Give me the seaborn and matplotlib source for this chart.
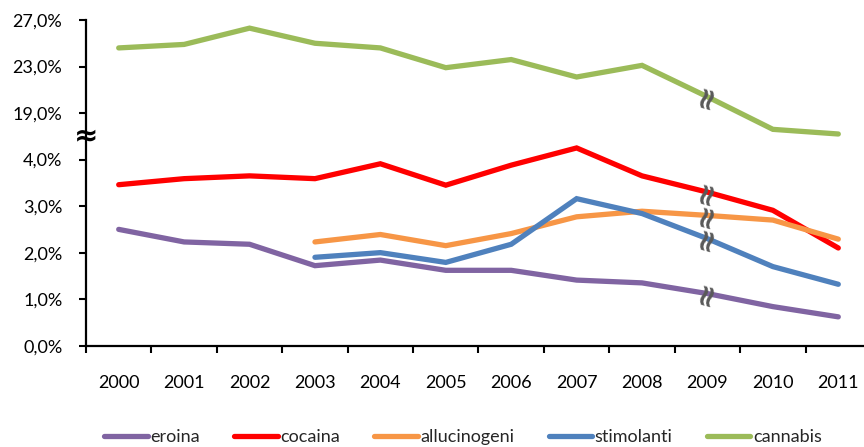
import numpy as np
import pandas as pd
import matplotlib
matplotlib.use("Agg")
import matplotlib.pyplot as plt
import seaborn as sns

years = ["2000", "2001", "2002", "2003", "2004", "2005",
         "2006", "2007", "2008", "2009", "2010", "2011"]
eroina = [2.50, 2.23, 2.18, 1.72, 1.84, 1.62, 1.62, 1.41, 1.35, 1.12, 0.84, 0.62]
cocaina = [3.46, 3.59, 3.65, 3.59, 3.91, 3.45, 3.88, 4.25, 3.65, 3.30, 2.91, 2.10]
allucinogeni = [np.nan, np.nan, np.nan, 2.23, 2.39, 2.15, 2.41, 2.77, 2.89, 2.80, 2.70, 2.29]
stimolanti = [np.nan, np.nan, np.nan, 1.90, 2.00, 1.79, 2.18, 3.16, 2.84, 2.30, 1.70, 1.32]
cannabis = [24.6, 24.9, 26.3, 25.0, 24.6, 22.9, 23.6, 22.1, 23.1, 20.4, 17.6, 17.2]

series_names = ["eroina", "cocaina", "allucinogeni", "stimolanti", "cannabis"]
series_values = [eroina, cocaina, allucinogeni, stimolanti, cannabis]
series_colors = ["#8064A2", "#FF0000", "#F79646", "#4F81BD", "#9BBB59"]

y_ticks = [0, 1, 2, 3, 4, 19, 23, 27]
y_labels = ["0,0%", "1,0%", "2,0%", "3,0%", "4,0%", "19,0%", "23,0%", "27,0%"]
break_index = 9  # 2009: series discontinuity marks

sns.set_theme(style="white")
plt.rcParams["font.family"] = ["Lato", "DejaVu Sans"]

W, H = 864, 447
fig = plt.figure(figsize=(W / 100, H / 100), dpi=100)
ax = fig.add_axes([86 / W, 101.3 / H, 785 / W, 325.7 / H])

pos = np.arange(len(years))
for name, vals, col in zip(series_names, series_values, series_colors):
    df = pd.DataFrame({"x": pos, "y": vals}).dropna()
    sns.lineplot(data=df, x="x", y="y", ax=ax, color=col, linewidth=3.8,
                 label=name, solid_capstyle="round", solid_joinstyle="miter")

# broken axis: 0-4.35 linear, 17-27 compressed (4 % per unit), squeezed gap between
A, B = 4.35, 17.0
UA, UB = A, 5 + (B - 19) / 4.0


def fwd(v):
    v = np.asarray(v, dtype=float)
    mid = UA + (v - A) * (UB - UA) / (B - A)
    return np.where(v <= A, v, np.where(v >= B, 5 + (v - 19) / 4.0, mid))


def inv(u):
    u = np.asarray(u, dtype=float)
    mid = A + (u - UA) * (B - A) / (UB - UA)
    return np.where(u <= UA, u, np.where(u >= UB, 19 + (u - 5) * 4.0, mid))


ax.set_yscale("function", functions=(fwd, inv))
ax.set_ylim(0, 27)
ax.set_xlim(-0.5, len(years) - 0.5)

ax.set_yticks(y_ticks)
ax.set_yticklabels(y_labels)
ax.yaxis.set_minor_locator(matplotlib.ticker.NullLocator())
ax.set_xticks(pos)
ax.set_xticklabels(years)
ax.set_xticks(np.arange(-0.5, len(years) + 0.5, 1.0), minor=True)
ax.tick_params(axis="x", which="major", length=0, pad=21, labelsize=13, colors="black")
ax.tick_params(axis="x", which="minor", length=5, width=1.5, direction="out",
               color="black", bottom=True)
ax.tick_params(axis="y", which="major", length=5, width=1.5, direction="out",
               color="black", left=True, pad=12, labelsize=13, labelcolor="black")
ax.set_xlabel("")
ax.set_ylabel("")

for s in ["top", "right"]:
    ax.spines[s].set_visible(False)
for s in ["left", "bottom"]:
    ax.spines[s].set_color("black")
    ax.spines[s].set_linewidth(1.6)

# axis break symbol
ax.text(0, 16.4, "≈", transform=ax.get_yaxis_transform(), ha="center", va="center",
        fontsize=21, fontweight="bold", color="black", family="DejaVu Sans",
        clip_on=False, zorder=5)

# series discontinuity marks at 2009
for vals in series_values:
    ax.text(pos[break_index], vals[break_index], "≈", ha="center", va="center",
            rotation=75, fontsize=22, fontweight="bold", color="#595959",
            family="DejaVu Sans", zorder=6)

handles, labels = ax.get_legend_handles_labels()
ax.get_legend().remove()
fig.legend(handles, labels, loc="center", bbox_to_anchor=(463 / W, 10 / H), ncol=5,
           frameon=False, fontsize=13, handlelength=2.4, handletextpad=0.15,
           columnspacing=1.9, borderpad=0.1)

fig.savefig("out.png", dpi=100)
